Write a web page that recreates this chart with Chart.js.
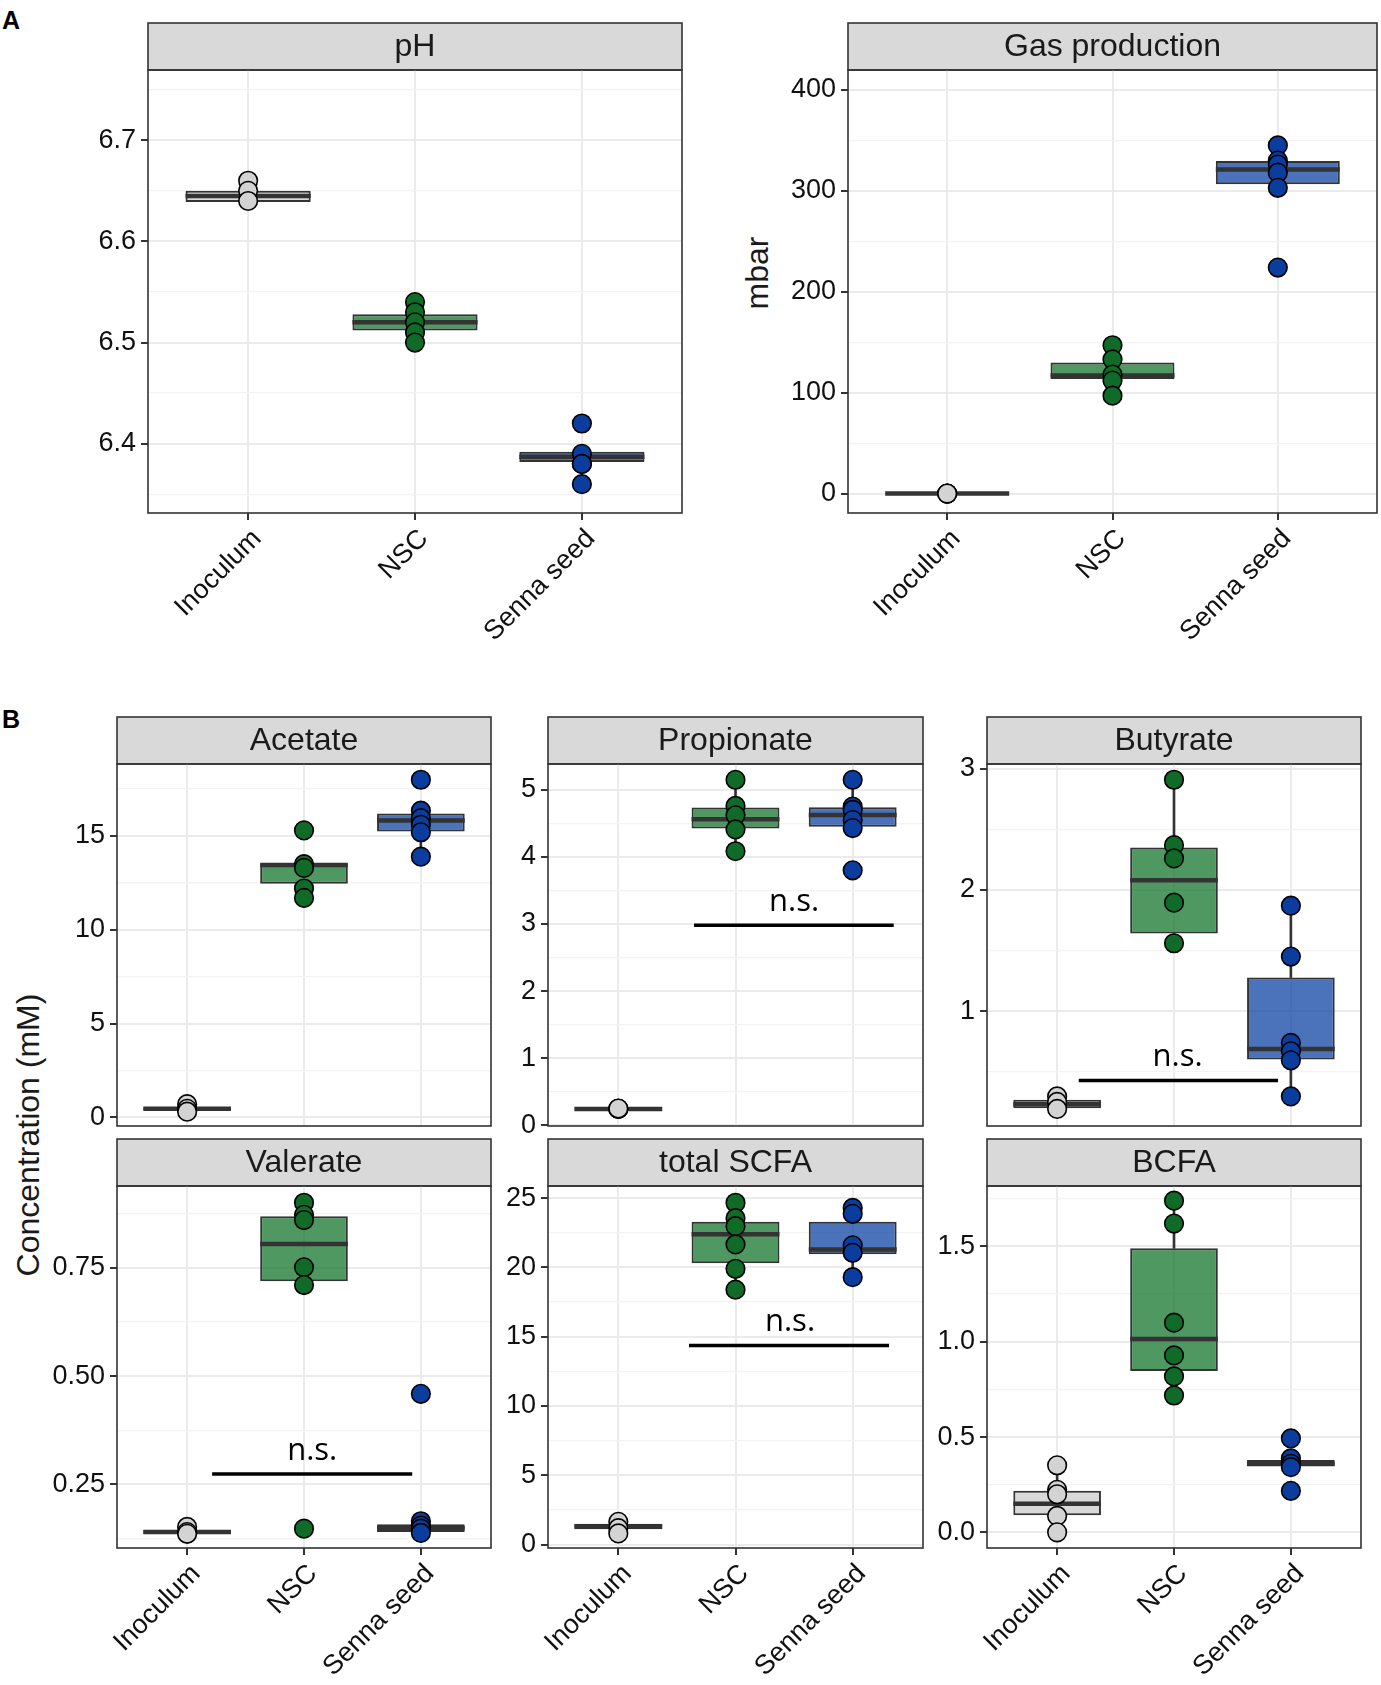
<!DOCTYPE html>
<html>
<head>
<meta charset="utf-8">
<script src="https://cdn.jsdelivr.net/npm/chart.js@4.4.1/dist/chart.umd.min.js"></script>
<style>
  html, body { margin: 0; padding: 0; background: #ffffff; }
  #root { position: relative; width: 1381px; height: 1685px; overflow: hidden; background: #ffffff; font-family: "Liberation Sans", Arial, sans-serif; }
  .tag { position: absolute; font-weight: bold; font-size: 25px; color: #000; line-height: 1; }
  .vlab { position: absolute; height: 40px; line-height: 40px; text-align: center; font-size: 32px; color: #1a1a1a; transform: rotate(-90deg); white-space: nowrap; }
</style>
</head>
<body>
<div id="root">
  <div class="tag" style="left:2px;top:8px;">A</div>
  <div class="tag" style="left:2px;top:707px;">B</div>
  <div class="vlab" style="left:-182px;top:1115px;width:420px;">Concentration (mM)</div>
  <div class="vlab" style="left:657px;top:253px;width:200px;">mbar</div>
</div>
<script>
// ---------------- DATA ----------------
const categories = ['Inoculum', 'NSC', 'Senna seed'];

// pH
const phPoints = [[6.66, 6.65, 6.64], [6.54, 6.53, 6.52, 6.51, 6.50], [6.42, 6.39, 6.38, 6.38, 6.36]];
const phQ1 = [6.639, 6.512, 6.382];
const phMedian = [6.645, 6.520, 6.387];
const phQ3 = [6.650, 6.528, 6.392];
const phWhiskerLow = [6.640, 6.500, 6.382];
const phWhiskerHigh = [6.660, 6.540, 6.392];
const phRange = [6.3315, 6.7695];
const phTicks = [6.4, 6.5, 6.6, 6.7];
const phTickLabels = ['6.4', '6.5', '6.6', '6.7'];
const phMinorTicks = [6.35, 6.45, 6.55, 6.65, 6.75];

// Gas production
const gasPoints = [[0, 0, 0], [147, 133, 118, 112, 97], [345, 330, 326, 318, 303, 224]];
const gasQ1 = [0, 113.6, 306.6];
const gasMedian = [0, 117, 321];
const gasQ3 = [0, 130, 329.5];
const gasWhiskerLow = [0, 97, 303];
const gasWhiskerHigh = [0, 147, 345];
const gasRange = [-19.2, 419.7];
const gasTicks = [0, 100, 200, 300, 400];
const gasTickLabels = ['0', '100', '200', '300', '400'];
const gasMinorTicks = [50, 150, 250, 350];

// Acetate
const acePoints = [[0.7, 0.45, 0.3], [15.3, 13.5, 13.3, 12.2, 11.7], [18.0, 16.35, 15.95, 15.6, 15.2, 13.9]];
const aceQ1 = [0.4, 12.46, 15.24];
const aceMedian = [0.45, 13.45, 15.83];
const aceQ3 = [0.5, 13.5, 16.2];
const aceWhiskerLow = [0.3, 11.7, 13.9];
const aceWhiskerHigh = [0.7, 13.5, 16.35];
const aceRange = [-0.465, 18.84];
const aceTicks = [0, 5, 10, 15];
const aceTickLabels = ['0', '5', '10', '15'];
const aceMinorTicks = [2.5, 7.5, 12.5, 17.5];

// Propionate
const proPoints = [[0.245, 0.245, 0.25], [5.15, 4.76, 4.62, 4.41, 4.085], [5.15, 4.75, 4.70, 4.55, 4.43, 3.8]];
const proQ1 = [0.24, 4.425, 4.45];
const proMedian = [0.245, 4.56, 4.625];
const proQ3 = [0.25, 4.735, 4.74];
const proWhiskerLow = [0.24, 4.085, 4.43];
const proWhiskerHigh = [0.25, 5.15, 5.15];
const proRange = [-0.01, 5.385];
const proTicks = [0, 1, 2, 3, 4, 5];
const proTickLabels = ['0', '1', '2', '3', '4', '5'];
const proMinorTicks = [0.5, 1.5, 2.5, 3.5, 4.5];
const proSignif = { x: [1.646, 3.35], y: 2.98, textX: 2.5, label: 'n.s.' };

// Butyrate
const butPoints = [[0.295, 0.25, 0.192], [2.91, 2.37, 2.26, 1.895, 1.56], [1.87, 1.45, 0.737, 0.668, 0.593, 0.295]];
const butQ1 = [0.198, 1.64, 0.6];
const butMedian = [0.23, 2.08, 0.687];
const butQ3 = [0.267, 2.35, 1.277];
const butWhiskerLow = [0.192, 1.56, 0.295];
const butWhiskerHigh = [0.295, 2.91, 1.87];
const butRange = [0.051, 3.04];
const butTicks = [1, 2, 3];
const butTickLabels = ['1', '2', '3'];
const butMinorTicks = [0.5, 1.5, 2.5];
const butSignif = { x: [1.185, 2.89], y: 0.427, textX: 2.03, label: 'n.s.' };

// Valerate
const valPoints = [[0.152, 0.14, 0.136], [0.9, 0.872, 0.86, 0.751, 0.71, 0.148], [0.459, 0.165, 0.155, 0.148, 0.138]];
const valQ1 = [0.136, 0.719, 0.14];
const valMedian = [0.14, 0.805, 0.149];
const valQ3 = [0.145, 0.869, 0.158];
const valWhiskerLow = [0.136, 0.71, 0.138];
const valWhiskerHigh = [0.152, 0.9, 0.165];
const valRange = [0.1033, 0.9386];
const valTicks = [0.25, 0.5, 0.75];
const valTickLabels = ['0.25', '0.50', '0.75'];
const valMinorTicks = [0.125, 0.375, 0.625, 0.875];
const valSignif = { x: [1.214, 2.926], y: 0.274, textX: 2.07, label: 'n.s.' };

// total SCFA
const scfaPoints = [[1.64, 1.18, 0.8], [24.67, 23.56, 22.98, 21.66, 19.9, 18.4], [24.3, 23.87, 21.6, 21.06, 19.3]];
const scfaQ1 = [1.1, 20.3, 20.96];
const scfaMedian = [1.3, 22.4, 21.3];
const scfaQ3 = [1.5, 23.3, 23.3];
const scfaWhiskerLow = [0.8, 18.4, 19.3];
const scfaWhiskerHigh = [1.64, 24.67, 24.3];
const scfaRange = [-0.25, 25.88];
const scfaTicks = [0, 5, 10, 15, 20, 25];
const scfaTickLabels = ['0', '5', '10', '15', '20', '25'];
const scfaMinorTicks = [2.5, 7.5, 12.5, 17.5, 22.5];
const scfaSignif = { x: [1.603, 3.31], y: 14.37, textX: 2.465, label: 'n.s.' };

// BCFA
const bcfaPoints = [[0.352, 0.223, 0.2, 0.086, 0.0], [1.74, 1.62, 1.1, 0.928, 0.818, 0.718], [0.493, 0.388, 0.36, 0.342, 0.218]];
const bcfaQ1 = [0.09, 0.846, 0.346];
const bcfaMedian = [0.15, 1.015, 0.36];
const bcfaQ3 = [0.218, 1.49, 0.379];
const bcfaWhiskerLow = [0.0, 0.718, 0.342];
const bcfaWhiskerHigh = [0.352, 1.74, 0.388];
const bcfaRange = [-0.082, 1.817];
const bcfaTicks = [0, 0.5, 1, 1.5];
const bcfaTickLabels = ['0.0', '0.5', '1.0', '1.5'];
const bcfaMinorTicks = [0.25, 0.75, 1.25, 1.75];

// ---------------- STYLE / LAYOUT ----------------
const FONT = '"Liberation Sans", Arial, Helvetica, sans-serif';
const pointColors = ['#D3D3D3', '#0F6B27', '#0B3D9F'];
const boxColors = ['rgba(204,204,204,0.75)', 'rgba(20,118,46,0.75)', 'rgba(15,68,164,0.75)'];
const DARK = '#333333';
const STRIP_H = 47;
const PAD_T = 2, PAD_R = 3;

const panels = [
  { title: 'pH', pts: phPoints, q1: phQ1, med: phMedian, q3: phQ3, wlo: phWhiskerLow, whi: phWhiskerHigh,
    range: phRange, ticks: phTicks, labels: phTickLabels, minor: phMinorTicks,
    lay: { left: 148, right: 682, top: 23, bottom: 513, yw: 100, xh: 140, xlab: true } },
  { title: 'Gas production', pts: gasPoints, q1: gasQ1, med: gasMedian, q3: gasQ3, wlo: gasWhiskerLow, whi: gasWhiskerHigh,
    range: gasRange, ticks: gasTicks, labels: gasTickLabels, minor: gasMinorTicks,
    lay: { left: 848, right: 1377, top: 23, bottom: 513, yw: 90, xh: 140, xlab: true } },
  { title: 'Acetate', pts: acePoints, q1: aceQ1, med: aceMedian, q3: aceQ3, wlo: aceWhiskerLow, whi: aceWhiskerHigh,
    range: aceRange, ticks: aceTicks, labels: aceTickLabels, minor: aceMinorTicks,
    lay: { left: 117, right: 491, top: 717, bottom: 1126, yw: 90, xh: 12, xlab: false } },
  { title: 'Propionate', pts: proPoints, q1: proQ1, med: proMedian, q3: proQ3, wlo: proWhiskerLow, whi: proWhiskerHigh,
    range: proRange, ticks: proTicks, labels: proTickLabels, minor: proMinorTicks, sig: proSignif,
    lay: { left: 548, right: 923, top: 717, bottom: 1126, yw: 90, xh: 12, xlab: false } },
  { title: 'Butyrate', pts: butPoints, q1: butQ1, med: butMedian, q3: butQ3, wlo: butWhiskerLow, whi: butWhiskerHigh,
    range: butRange, ticks: butTicks, labels: butTickLabels, minor: butMinorTicks, sig: butSignif,
    lay: { left: 987, right: 1361, top: 717, bottom: 1126, yw: 90, xh: 12, xlab: false } },
  { title: 'Valerate', pts: valPoints, q1: valQ1, med: valMedian, q3: valQ3, wlo: valWhiskerLow, whi: valWhiskerHigh,
    range: valRange, ticks: valTicks, labels: valTickLabels, minor: valMinorTicks, sig: valSignif,
    lay: { left: 117, right: 491, top: 1139, bottom: 1548, yw: 90, xh: 137, xlab: true } },
  { title: 'total SCFA', pts: scfaPoints, q1: scfaQ1, med: scfaMedian, q3: scfaQ3, wlo: scfaWhiskerLow, whi: scfaWhiskerHigh,
    range: scfaRange, ticks: scfaTicks, labels: scfaTickLabels, minor: scfaMinorTicks, sig: scfaSignif,
    lay: { left: 548, right: 923, top: 1139, bottom: 1548, yw: 90, xh: 137, xlab: true } },
  { title: 'BCFA', pts: bcfaPoints, q1: bcfaQ1, med: bcfaMedian, q3: bcfaQ3, wlo: bcfaWhiskerLow, whi: bcfaWhiskerHigh,
    range: bcfaRange, ticks: bcfaTicks, labels: bcfaTickLabels, minor: bcfaMinorTicks,
    lay: { left: 987, right: 1361, top: 1139, bottom: 1548, yw: 90, xh: 137, xlab: true } }
];

Chart.defaults.font.family = FONT;

function isMajor(p, v) { return p.ticks.some(t => Math.abs(t - v) < 1e-9); }
function labelFor(p, v) {
  const i = p.ticks.findIndex(t => Math.abs(t - v) < 1e-9);
  return i >= 0 ? p.labels[i] : '';
}
function halfBox(chart) {
  const x = chart.scales.x;
  return (x.getPixelForValue(2) - x.getPixelForValue(1)) * 0.375;
}

function panelPlugin(p) {
  return {
    id: 'panelDecor',
    beforeDraw(chart) {
      const a = chart.chartArea, ctx = chart.ctx;
      ctx.save();
      ctx.fillStyle = '#D9D9D9';
      ctx.fillRect(a.left, a.top - STRIP_H, a.right - a.left, STRIP_H);
      ctx.strokeStyle = DARK;
      ctx.lineWidth = 1.6;
      ctx.strokeRect(a.left, a.top - STRIP_H, a.right - a.left, STRIP_H);
      ctx.restore();
    },
    afterDatasetsDraw(chart) {
      if (!p.sig) return;
      const ctx = chart.ctx;
      const x = chart.scales.x.getPixelForValue(p.sig.textX);
      const y = chart.scales.y.getPixelForValue(p.sig.y);
      ctx.save();
      ctx.fillStyle = '#000';
      ctx.font = '31px "Open Sans", "DejaVu Sans", sans-serif';
      ctx.textAlign = 'center';
      ctx.textBaseline = 'alphabetic';
      ctx.fillText(p.sig.label, x, y - 14);
      ctx.restore();
    },
    afterDraw(chart) {
      const a = chart.chartArea, ctx = chart.ctx;
      ctx.save();
      ctx.strokeStyle = DARK;
      ctx.lineWidth = 1.6;
      ctx.strokeRect(a.left, a.top, a.right - a.left, a.bottom - a.top);
      ctx.restore();
    }
  };
}

const root = document.getElementById('root');

function makeChart(p) {
  const L = p.lay;
  const W = L.yw + (L.right - L.left) + PAD_R;
  const H = PAD_T + (L.bottom - L.top) + L.xh;
  const canvas = document.createElement('canvas');
  canvas.width = W; canvas.height = H;
  canvas.style.cssText = 'position:absolute;left:' + (L.left - L.yw) + 'px;top:' + (L.top - PAD_T) + 'px;width:' + W + 'px;height:' + H + 'px;';
  root.appendChild(canvas);

  const datasets = [];
  p.pts.forEach((vals, g) => {
    datasets.push({
      type: 'scatter', label: categories[g],
      data: vals.map(v => ({ x: g + 1, y: v })),
      pointRadius: 9.3, pointHoverRadius: 9.3,
      pointBackgroundColor: pointColors[g], pointBorderColor: '#000', pointBorderWidth: 1.6,
      order: 0
    });
  });
  if (p.sig) {
    datasets.push({
      type: 'line', label: 'signif',
      data: [{ x: p.sig.x[0], y: p.sig.y }, { x: p.sig.x[1], y: p.sig.y }],
      borderColor: '#000', borderWidth: 3.5, pointRadius: 0, fill: false, tension: 0,
      order: 1
    });
  }
  datasets.push({
    type: 'scatter', label: 'median',
    data: p.med.map((v, g) => ({ x: g + 1, y: v })),
    pointStyle: 'line', pointRadius: ctx => halfBox(ctx.chart), pointHoverRadius: ctx => halfBox(ctx.chart),
    pointBorderColor: DARK, pointBorderWidth: 4.5,
    order: 2
  });
  datasets.push({
    type: 'bar', label: 'box',
    data: p.q1.map((v, g) => ({ x: g + 1, y: [v, p.q3[g]] })),
    backgroundColor: boxColors, borderColor: DARK, borderWidth: 2, borderSkipped: false,
    grouped: false, barPercentage: 0.75, categoryPercentage: 1,
    order: 3
  });
  datasets.push({
    type: 'bar', label: 'whisker high',
    data: p.q3.map((v, g) => ({ x: g + 1, y: [v, p.whi[g]] })),
    backgroundColor: DARK, borderWidth: 0, barThickness: 2, grouped: false,
    order: 4
  });
  datasets.push({
    type: 'bar', label: 'whisker low',
    data: p.q1.map((v, g) => ({ x: g + 1, y: [p.wlo[g], v] })),
    backgroundColor: DARK, borderWidth: 0, barThickness: 2, grouped: false,
    order: 4
  });

  const yAll = p.ticks.concat(p.minor).sort((a, b) => a - b);

  new Chart(canvas, {
    type: 'bar',
    data: { datasets },
    options: {
      responsive: false, animation: false, devicePixelRatio: 1,
      layout: { autoPadding: false, padding: { top: PAD_T, right: PAD_R, left: 0, bottom: 0 } },
      plugins: {
        legend: { display: false },
        tooltip: { enabled: false },
        title: {
          display: true, text: p.title, fullSize: false, position: 'top', align: 'center',
          color: '#1a1a1a', font: { family: FONT, size: 32, weight: 'normal', lineHeight: 1.25 },
          padding: { top: 4, bottom: 3 }
        }
      },
      scales: {
        x: {
          type: 'linear', min: 0.4, max: 3.6, offset: false,
          afterBuildTicks: ax => { ax.ticks = [1, 2, 3].map(v => ({ value: v })); },
          afterFit: ax => { ax.height = L.xh; ax.paddingLeft = 0; ax.paddingRight = 0; },
          border: { display: false },
          grid: { offset: false, color: '#EBEBEB', lineWidth: 2, drawTicks: L.xlab, tickLength: 7, tickColor: DARK, tickWidth: 2 },
          ticks: {
            display: L.xlab, autoSkip: false, minRotation: 45, maxRotation: 45, padding: 3, labelOffset: 9,
            color: '#111', font: { family: FONT, size: 27 },
            callback: v => categories[Math.round(v) - 1]
          }
        },
        y: {
          type: 'linear', min: p.range[0], max: p.range[1],
          afterBuildTicks: ax => { ax.ticks = yAll.map(v => ({ value: v })); },
          afterFit: ax => { ax.width = L.yw; ax.paddingTop = 0; ax.paddingBottom = 0; },
          border: { display: false },
          grid: {
            color: c => isMajor(p, c.tick.value) ? '#EBEBEB' : '#F3F3F3',
            lineWidth: c => isMajor(p, c.tick.value) ? 2 : 1.3,
            tickColor: c => isMajor(p, c.tick.value) ? DARK : 'rgba(0,0,0,0)',
            tickLength: 7, tickWidth: 2
          },
          ticks: {
            autoSkip: false, padding: 5, color: '#111', font: { family: FONT, size: 27 },
            callback: v => labelFor(p, v)
          }
        }
      }
    },
    plugins: [panelPlugin(p)]
  });
}

panels.forEach(makeChart);
</script>
</body>
</html>
